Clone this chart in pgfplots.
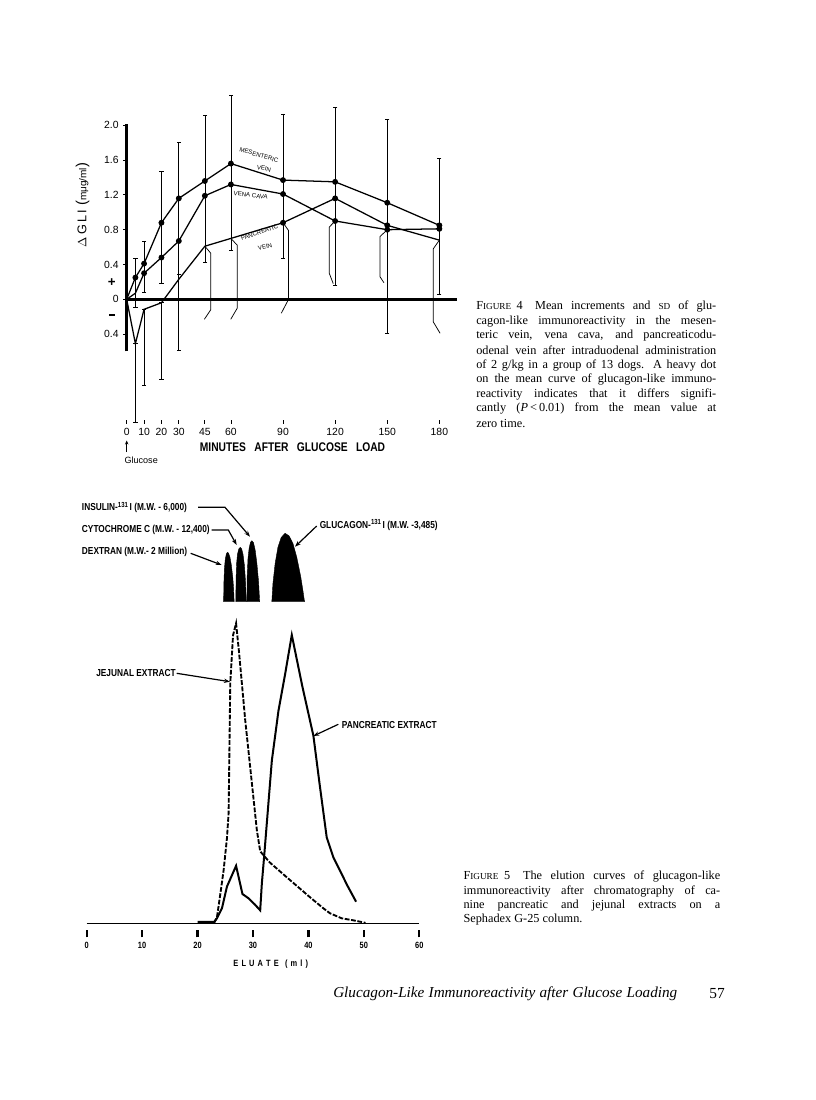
\documentclass[border=0pt]{standalone}
\usepackage{pgfplots}
\pgfplotsset{compat=1.18}
\usepackage{fontspec}
\setmainfont{Liberation Serif}
\setsansfont{Liberation Sans}
\newfontfamily\cond[FakeStretch=0.82]{Liberation Sans}
\usetikzlibrary{arrows.meta}

\newcommand{\capline}[4]{\node[anchor=west,inner sep=0pt,font=\fontsize{9.2}{10}\selectfont] at (#1,#2) {\makebox[#3][s]{#4}};}
\newcommand{\sm}[1]{{\fontsize{6.9}{8}\selectfont #1}}

\begin{document}
\begin{tikzpicture}
\path[use as bounding box, fill=white] (0,0) rectangle (612pt,-825pt);

% ================= FIGURE 4 =================
\begin{axis}[
  at={(95.025pt,-317.775pt)}, anchor=south west,
  x=1.30275pt, y=65.25pt,
  xmin=0, xmax=190, ymin=-1.43, ymax=2.36,
  enlargelimits=false, clip=false,
  axis x line*=bottom, axis y line*=left,
  x axis line style={draw=none}, y axis line style={draw=none},
  xtick={0,10,20,30,45,60,90,120,150,180},
  xticklabels={0,10,20,30,45,60,90,120,150,180},
  ytick={-0.4,0,0.4,0.8,1.2,1.6,2.0},
  yticklabels={0.4,0,0.4,0.8,1.2,1.6,2.0},
  tick style={black, line width=0.6pt},
  major tick length=2.5pt,
  ytick align=outside, xtick align=inside,
  ticklabel style={font=\sffamily\fontsize{7.8}{8}\selectfont},
  /pgf/number format/assume math mode=true,
  sd/.style={black, line width=0.55pt, mark=-, mark size=1.6pt, mark options={solid, line width=0.55pt}},
  bent/.style={black, line width=0.55pt, mark=none},
]
% axes lines
\addplot[black, line width=2pt] coordinates {(0,0) (190,0)};
\addplot[black, line width=2pt] coordinates {(0,-0.6) (0,2.02)};
% SD bars
\addplot[sd] coordinates {(5,0.47) (5,-0.09)};
\addplot[sd] coordinates {(5,-0.51) (5,-1.42)};
\addplot[sd] coordinates {(10,0.67) (10,0.08)};
\addplot[sd] coordinates {(10,-0.115) (10,-0.985)};
\addplot[sd] coordinates {(20,1.47) (20,0.18)};
\addplot[sd] coordinates {(20,-0.04) (20,-0.92)};
\addplot[sd] coordinates {(30,1.80) (30,0.29) (30,-0.59)};
\addplot[sd] coordinates {(45,2.11) (45,0.42)};
\addplot[sd] coordinates {(60,2.34) (60,0.56)};
\addplot[sd] coordinates {(90,2.13) (90,0.47)};
\addplot[sd] coordinates {(120,2.21) (120,0.16)};
\addplot[sd] coordinates {(150,2.07) (150,-0.39)};
\addplot[sd] coordinates {(180,1.62) (180,0.06)};
\addplot[bent] coordinates {(45,0.61) (48.4,0.53) (48.4,-0.12) (44.7,-0.23)};
\addplot[bent] coordinates {(60,0.70) (63.7,0.62) (63.7,-0.10) (59.9,-0.23)};
\addplot[bent] coordinates {(90,0.88) (93.2,0.79) (93.2,0.0) (89,-0.16)};
\addplot[bent] coordinates {(120,0.90) (116.6,0.83) (116.6,0.30) (118.9,0.18)};
\addplot[bent] coordinates {(150,0.80) (145.8,0.72) (145.8,0.26) (148.1,0.19)};
\addplot[bent] coordinates {(180,0.68) (176.5,0.58) (176.5,-0.26) (180.4,-0.39)};
% mean curves
\addplot[black, line width=0.95pt, mark=*, mark size=1.7pt, mark indices={2,3,4,5,6,7,8,9,10,11}] coordinates {
 (0,0) (5,0.25) (10,0.41) (20,0.88) (30,1.16) (45,1.36) (60,1.56) (90,1.37) (120,1.35) (150,1.11) (180,0.85)};
\addplot[black, line width=0.95pt, mark=*, mark size=1.7pt, mark indices={3,4,5,6,7,8,9,10,11}] coordinates {
 (0,0) (5,0.07) (10,0.30) (20,0.48) (30,0.67) (45,1.19) (60,1.32) (90,1.21) (120,0.90) (150,0.80) (180,0.81)};
\addplot[black, line width=0.95pt, mark=*, mark size=1.7pt, mark indices={8,9,10}] coordinates {
 (0,0) (5,-0.51) (10,-0.115) (20,-0.04) (30,0.23) (45,0.61) (60,0.70) (90,0.88) (120,1.16) (150,0.85) (180,0.68)};
\end{axis}

% ================= FIGURE 5 =================
\begin{axis}[
  at={(65.025pt,-697.5pt)}, anchor=south west,
  x=4.1573pt, y=0.75pt,
  xmin=0, xmax=60, ymin=-6.7, ymax=395,
  enlargelimits=false, clip=false,
  axis x line*=bottom, axis y line=none,
  x axis line style={draw=none},
  xtick={0,10,20,30,40,50,60},
  xticklabels={0,10,20,30,40,50,60},
  xtick align=outside, major tick length=5.5pt,
  tick style={black, line width=1.8pt},
  ticklabel style={font=\cond\bfseries\fontsize{6.8}{7}\selectfont},
]
\addplot[black, line width=1.2pt] coordinates {(0,0) (60,0)};
\addplot[black, line width=1.5pt] coordinates {
 (20,1.5) (23,1.5) (23.5,5) (24.4,15) (25.3,36.7) (26.95,57.5) (28.1,29.3) (29.2,25) (30.3,19) (31.3,13)
 (31.6,40) (32.0,66) (33.4,162.7) (34.6,212.7) (35.8,249.3) (37.0,288.3) (38.9,237) (40.9,187.5)
 (42.0,140) (43.3,86) (44.5,66) (45.7,52.7) (47.0,38) (48.6,21.6)};
\addplot[black, line width=1.4pt, dash pattern=on 3.6pt off 1.2pt] coordinates {
 (23,0.5) (23.5,6) (24.1,29) (24.7,53) (25.3,85) (25.6,110) (25.9,240) (26.4,288) (26.95,300)
 (27.5,270) (28.6,203) (30.7,93) (31.3,72) (33.0,61) (36.1,46) (40.3,26) (42.7,15) (43.9,10)
 (46.0,5) (48.1,3) (50.3,0.5)};
% marker peaks
\addplot[black, fill=black, line width=0.3pt] coordinates {
 (24.7,321.6) (24.75,340) (24.85,355) (25.0,364) (25.2,369.5) (25.4,371) (25.6,370) (25.85,366)
 (26.1,358) (26.35,346) (26.5,335) (26.6,321.6)} -- cycle;
\addplot[black, fill=black, line width=0.3pt] coordinates {
 (26.9,321.6) (26.95,345) (27.05,360) (27.2,369) (27.45,374.5) (27.7,376) (27.95,374.5) (28.2,369)
 (28.45,358) (28.65,342) (28.8,321.6)} -- cycle;
\addplot[black, fill=black, line width=0.3pt] coordinates {
 (28.9,321.6) (28.95,347) (29.1,365) (29.3,375) (29.55,381) (29.8,382.6) (30.1,380.5) (30.4,373)
 (30.7,360) (31.0,342) (31.2,321.6)} -- cycle;
\addplot[black, fill=black, line width=0.3pt] coordinates {
 (33.4,321.6) (33.6,340) (34.0,360) (34.5,376) (35.1,386) (35.8,390) (36.5,387.5) (37.2,380)
 (37.9,366) (38.6,347) (39.0,333) (39.3,321.6)} -- cycle;
\end{axis}

% ================= annotations (px coordinates) =================
\begin{scope}[x=0.75pt, y=-0.75pt]
% Figure 4 labels
\node[rotate=90, font=\sffamily\fontsize{9.5}{12}\selectfont, inner sep=0pt] at (82.5,205)
  {$\Delta$\,G\,L\,I\,\,{\fontsize{11}{12}\selectfont(}{\fontsize{7.5}{9}\selectfont mμg/ml}{\fontsize{11}{12}\selectfont)}};
\node[font=\sffamily\bfseries\fontsize{10}{10}\selectfont] at (111.7,282.7) {+};
\fill[black] (108.5,314.2) rectangle (115,316.2);
\node[font=\cond\bfseries\fontsize{9.4}{10}\selectfont, inner sep=0pt] at (292.5,446.7)
  {\makebox[139pt][s]{MINUTES AFTER GLUCOSE LOAD}};
\node[anchor=west, inner sep=0pt, font=\sffamily\fontsize{6.8}{8}\selectfont] at (124.3,460.5) {Glucose};
\draw[-{Stealth[length=3pt,width=2.6pt]}, line width=0.6pt] (126.7,452) -- (126.7,440.5);
\begin{scope}[every node/.style={font=\sffamily\fontsize{4.6}{5}\selectfont, inner sep=0pt}]
\node[rotate=-17] at (259,155) {MESENTERIC};
\node[rotate=-12] at (264,168.5) {VEIN};
\node[rotate=-7] at (250.7,195.3) {VENA CAVA};
\node[rotate=19] at (259.5,232.5) {PANCREATIC};
\node[rotate=14] at (265,247) {VEIN};
\end{scope}

% Figure 4 caption
\capline{476}{306.7}{180pt}{F\sm{IGURE}\hspace{0.45em}4\hspace{0.35em} Mean increments and \sm{SD} of glu-}
\capline{476}{321.3}{180pt}{cagon-like immunoreactivity in the mesen-}
\capline{476}{335.9}{180pt}{teric vein, vena cava, and pancreaticodu-}
\capline{476}{350.5}{180pt}{odenal vein after intraduodenal administration}
\capline{476}{365.1}{180pt}{of 2 g/kg in a group of 13 dogs. A heavy dot}
\capline{476}{379.7}{180pt}{on the mean curve of glucagon-like immuno-}
\capline{476}{394.3}{180pt}{reactivity indicates that it differs signifi-}
\capline{476}{408.9}{180pt}{cantly (\textit{P}\,<\,0.01) from the mean value at}
\node[anchor=west,inner sep=0pt,font=\fontsize{9.2}{10}\selectfont] at (476,423.5) {zero time.};

% Figure 5 labels
\begin{scope}[every node/.style={font=\cond\bfseries\fontsize{7.6}{8}\selectfont, inner sep=0pt, anchor=west}]
\node at (81.7,507.3) {INSULIN-{\fontsize{5.5}{5}\selectfont\raisebox{2.4pt}{131}}\,I (M.W. - 6,000)};
\node at (81.7,530) {CYTOCHROME C (M.W. - 12,400)};
\node at (81.7,551.5) {DEXTRAN (M.W.- 2 Million)};
\node at (319.5,525) {GLUCAGON-{\fontsize{5.5}{5}\selectfont\raisebox{2.4pt}{131}}\,I (M.W. -3,485)};
\node at (96,673.3) {JEJUNAL EXTRACT};
\node at (341.7,725.3) {PANCREATIC EXTRACT};
\end{scope}
\begin{scope}[line width=0.9pt, -{Stealth[length=4.5pt,width=3.2pt]}]
\draw (198,507.3) -- (225,507.3) -- (250,536.7);
\draw (211.7,530) -- (228.3,530) -- (236.7,545);
\draw (190.7,553.3) -- (221.7,565);
\draw (316.7,526) -- (295,546.7);
\draw (176.7,673.3) -- (230,681.7);
\draw (338.3,724.3) -- (313.3,736);
\end{scope}
\node[font=\cond\bfseries\fontsize{6.8}{7}\selectfont, inner sep=0pt] at (270.8,964.3)
  {\makebox[56pt][s]{E L U A T E \ ( m l )}};

% Figure 5 caption
\capline{463.3}{876.7}{192.5pt}{F\sm{IGURE}\hspace{0.45em}5\hspace{0.35em} The elution curves of glucagon-like}
\capline{463.3}{891}{192.5pt}{immunoreactivity after chromatography of ca-}
\capline{463.3}{905.3}{192.5pt}{nine pancreatic and jejunal extracts on a}
\node[anchor=west,inner sep=0pt,font=\fontsize{9.2}{10}\selectfont] at (463.3,919.5) {Sephadex G-25 column.};

% footer
\node[anchor=west,inner sep=0pt,font=\itshape\fontsize{11.4}{13}\selectfont] at (333,994)
  {\makebox[258pt][s]{Glucagon-Like Immunoreactivity after Glucose Loading}};
\node[anchor=east,inner sep=0pt,font=\fontsize{11.5}{12}\selectfont] at (725,994) {57};
\end{scope}
\end{tikzpicture}
\end{document}
